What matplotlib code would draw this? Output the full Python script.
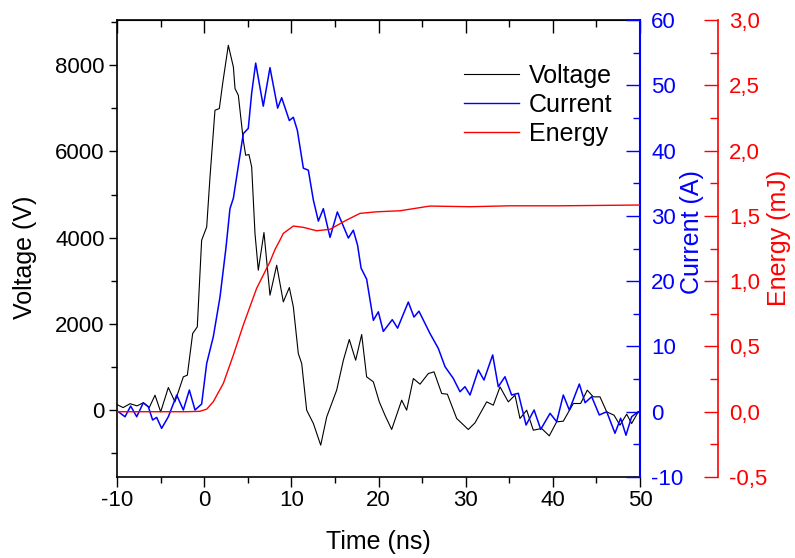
import matplotlib
matplotlib.use('Agg')
import matplotlib.pyplot as plt
from matplotlib.ticker import MultipleLocator, FuncFormatter
from matplotlib.lines import Line2D

plt.rcParams['font.family'] = ['Liberation Sans', 'DejaVu Sans']
plt.rcParams['axes.unicode_minus'] = False

# voltage trace (ns, V)
t_v = [-10, -9.3, -8.5, -7.7, -7.0, -6.3, -5.64, -4.99, -4.11, -3.35, -2.39, -1.93,
       -1.32, -0.79, -0.29, 0.29, 0.67, 1.24, 1.74, 2.12, 2.77, 3.35, 3.54, 3.92,
       4.49, 4.76, 5.14, 5.45, 5.83, 6.21, 6.86, 7.55, 8.32, 9.08, 9.77, 10.23,
       10.80, 11.19, 11.76, 12.53, 13.37, 14.06, 15.20, 15.97, 16.65, 17.38, 18.07,
       18.64, 19.41, 20.09, 20.74, 21.51, 22.66, 23.23, 24.0, 24.76, 25.72, 26.37,
       27.25, 27.9, 28.97, 30.3, 31.07, 32.41, 33.17, 33.94, 34.89, 35.66, 36.23,
       37.0, 37.76, 38.72, 39.59, 40.44, 41.2, 42.35, 43.19, 43.95, 44.64, 45.41,
       46.18, 47.02, 47.7, 48.47, 49.04, 49.8]
voltage = [130, 60, 150, 100, 170, 60, 348, -39, 526, 193, 773, 812,
           1778, 1932, 3942, 4251, 5410, 6957, 6996, 7575, 8464, 7961, 7459, 7304,
           6261, 5913, 5929, 5642, 4100, 3246, 4120, 2667, 3362, 2512, 2845, 2396,
           1314, 1082, 0, -309, -812, -155, 464, 1159, 1639, 1159, 1755,
           773, 657, 193, -116, -448, 232, 0, 734, 603, 850, 889,
           386, 371, -193, -448, -294, 193, 116, 541, 193, 348, -193,
           0, -464, -425, -595, -271, -255, 155, 155, 464, 309, 309,
           -39, -116, -348, -93, -309, -39]

# current trace (ns, A)
t_i = [-9.85, -9.08, -8.43, -7.74, -6.98, -6.41, -5.91, -5.45, -4.88, -4.11, -3.15,
       -2.39, -1.70, -1.05, -0.29, 0.29, 1.05, 1.82, 2.5, 2.96, 3.35, 4.49, 5.06,
       5.45, 5.91, 6.78, 7.55, 8.43, 8.89, 9.77, 10.23, 10.69, 11.38, 11.95, 12.53,
       13.1, 13.67, 14.44, 15.28, 16.54, 17.11, 17.6, 18.0, 18.64, 19.41, 19.98,
       20.55, 21.58, 22.19, 23.42, 24.07, 24.64, 25.9, 26.86, 27.63, 28.58, 29.35,
       29.92, 30.5, 31.45, 32.1, 33.1, 33.74, 34.51, 35.27, 36.04, 36.93, 37.85,
       38.61, 39.68, 40.44, 41.2, 41.89, 43.04, 43.7, 44.46, 45.33, 46.18, 47.13,
       47.78, 48.39, 49.04, 49.8]
current = [0, -0.77, 0.87, -0.77, 1.38, 0.77, -1.27, -0.87, -2.55, -0.77, 2.55,
           0.26, 3.32, 0.26, 1.18, 7.4, 11.5, 17.6, 25.1, 31.1, 32.7, 42.6, 43.4,
           48.8, 53.4, 46.8, 52.7, 46.5, 48.1, 44.6, 45.1, 43.1, 37.3, 37.0, 32.4,
           29.2, 31.1, 26.7, 30.6, 26.6, 27.8, 25.5, 22.0, 20.3, 14.0, 15.3,
           12.3, 14.1, 12.8, 16.8, 14.5, 15.4, 12.0, 9.7, 6.9, 5.1, 3.06,
           3.83, 2.56, 6.4, 4.85, 8.7, 3.83, 5.36, 2.56, 2.82, -2.04, 0.26,
           -2.7, -0.25, -1.53, 2.56, 0.26, 4.24, 1.38, 2.3, -0.5, 0, -3.3,
           -1.0, -3.6, -0.77, 0]

# energy (ns, mJ)
t_e = [-10, -2, -0.5, 0.3, 1.05, 2.2, 3.35, 4.49, 6.02, 7.55, 8.13, 8.7, 9.08,
       10.23, 11.38, 12.9, 14.44, 16.34, 17.88, 19.79, 22.46, 25.9, 30.5, 35.08,
       40.82, 50]
energy = [0, 0.0, 0.003, 0.02, 0.077, 0.217, 0.434, 0.664, 0.945, 1.149, 1.243,
          1.315, 1.366, 1.422, 1.412, 1.386, 1.397, 1.468, 1.519, 1.531, 1.539,
          1.575, 1.57, 1.577, 1.577, 1.583]

fig = plt.figure(figsize=(7.95, 5.58), dpi=100)
ax = fig.add_axes([117 / 795, 81 / 558, 523 / 795, 457 / 558])
ax_i = ax.twinx()
ax_e = ax.twinx()

ax.plot(t_v, voltage, color='black', lw=0.8)
ax_i.plot(t_i, current, color='blue', lw=1.1)
ax_e.plot(t_e, energy, color='red', lw=1.0)

ax.set_xlim(-10, 50)
ax.set_ylim(-1550, 9050)
ax_i.set_ylim(-10, 60)
ax_e.set_ylim(-0.5, 3.0)

TICK_FS = 16

# x axis
ax.xaxis.set_major_locator(MultipleLocator(10))
ax.xaxis.set_minor_locator(MultipleLocator(5))
ax.tick_params(axis='x', which='major', direction='out', length=7, width=1,
               labelsize=TICK_FS, pad=2)
ax.tick_params(axis='x', which='minor', direction='out', length=4, width=1)
top = ax.secondary_xaxis('top')
top.xaxis.set_major_locator(MultipleLocator(10))
top.xaxis.set_minor_locator(MultipleLocator(5))
top.tick_params(which='major', direction='in', length=9, width=1, labeltop=False)
top.tick_params(which='minor', direction='in', length=5, width=1)

# voltage axis
ax.yaxis.set_major_locator(MultipleLocator(2000))
ax.yaxis.set_minor_locator(MultipleLocator(1000))
ax.tick_params(axis='y', which='major', direction='out', length=6, width=1,
               labelsize=TICK_FS, pad=3)
ax.tick_params(axis='y', which='minor', direction='out', length=4, width=1)
ax.spines['right'].set_visible(False)
for s in ('left', 'bottom', 'top'):
    ax.spines[s].set_linewidth(1.2)

# current axis
ax_i.yaxis.set_major_locator(MultipleLocator(10))
ax_i.yaxis.set_minor_locator(MultipleLocator(5))
ax_i.tick_params(axis='y', which='major', direction='in', length=10, width=1,
                 labelsize=TICK_FS, colors='blue', pad=8)
ax_i.tick_params(axis='y', which='minor', direction='in', length=5, width=1,
                 colors='blue')
for s in ('left', 'top', 'bottom'):
    ax_i.spines[s].set_visible(False)
ax_i.spines['right'].set_color('blue')
ax_i.spines['right'].set_linewidth(1.5)

# energy axis
ax_e.spines['right'].set_position(('axes', (718 - 117) / 523))
for s in ('left', 'top', 'bottom'):
    ax_e.spines[s].set_visible(False)
ax_e.spines['right'].set_color('red')
ax_e.spines['right'].set_linewidth(1.2)
ax_e.yaxis.set_major_locator(MultipleLocator(0.5))
ax_e.yaxis.set_minor_locator(MultipleLocator(0.25))
ax_e.yaxis.set_major_formatter(FuncFormatter(lambda v, p: f'{v:.1f}'.replace('.', ',')))
ax_e.tick_params(axis='y', which='major', direction='in', length=10, width=1,
                 labelsize=TICK_FS, colors='red', pad=8)
ax_e.tick_params(axis='y', which='minor', direction='in', length=6, width=1,
                 colors='red')

# labels
ax.set_xlabel('Time (ns)', fontsize=18)
ax.xaxis.set_label_coords(0.5, -0.115)
ax.set_ylabel('Voltage (V)', fontsize=18)
ax.yaxis.set_label_coords((25 - 117) / 523, 0.48)
ax_i.set_ylabel('Current (A)', fontsize=18, color='blue')
ax_i.yaxis.set_label_coords((692 - 117) / 523, 0.536)
ax_e.set_ylabel('Energy (mJ)', fontsize=18, color='red')
ax_e.yaxis.set_label_coords((779 - 117) / 523, 0.523)
for a in (ax, ax_i, ax_e):
    lab = a.yaxis.label
    lab.set_rotation(90)
    lab.set_rotation_mode('default')
    lab.set_horizontalalignment('center')
    lab.set_verticalalignment('center')

handles = [Line2D([], [], color='black', lw=0.8),
           Line2D([], [], color='blue', lw=1.0),
           Line2D([], [], color='red', lw=1.0)]
ax_e.legend(handles, ['Voltage', 'Current', 'Energy'], loc='upper left',
            bbox_to_anchor=((464 - 117) / 523, (477 - 64) / 457),
            frameon=False, fontsize=18, handlelength=2.2, handletextpad=0.4,
            labelspacing=0.2, borderpad=0, borderaxespad=0)

fig.savefig('out.png', dpi=100)
